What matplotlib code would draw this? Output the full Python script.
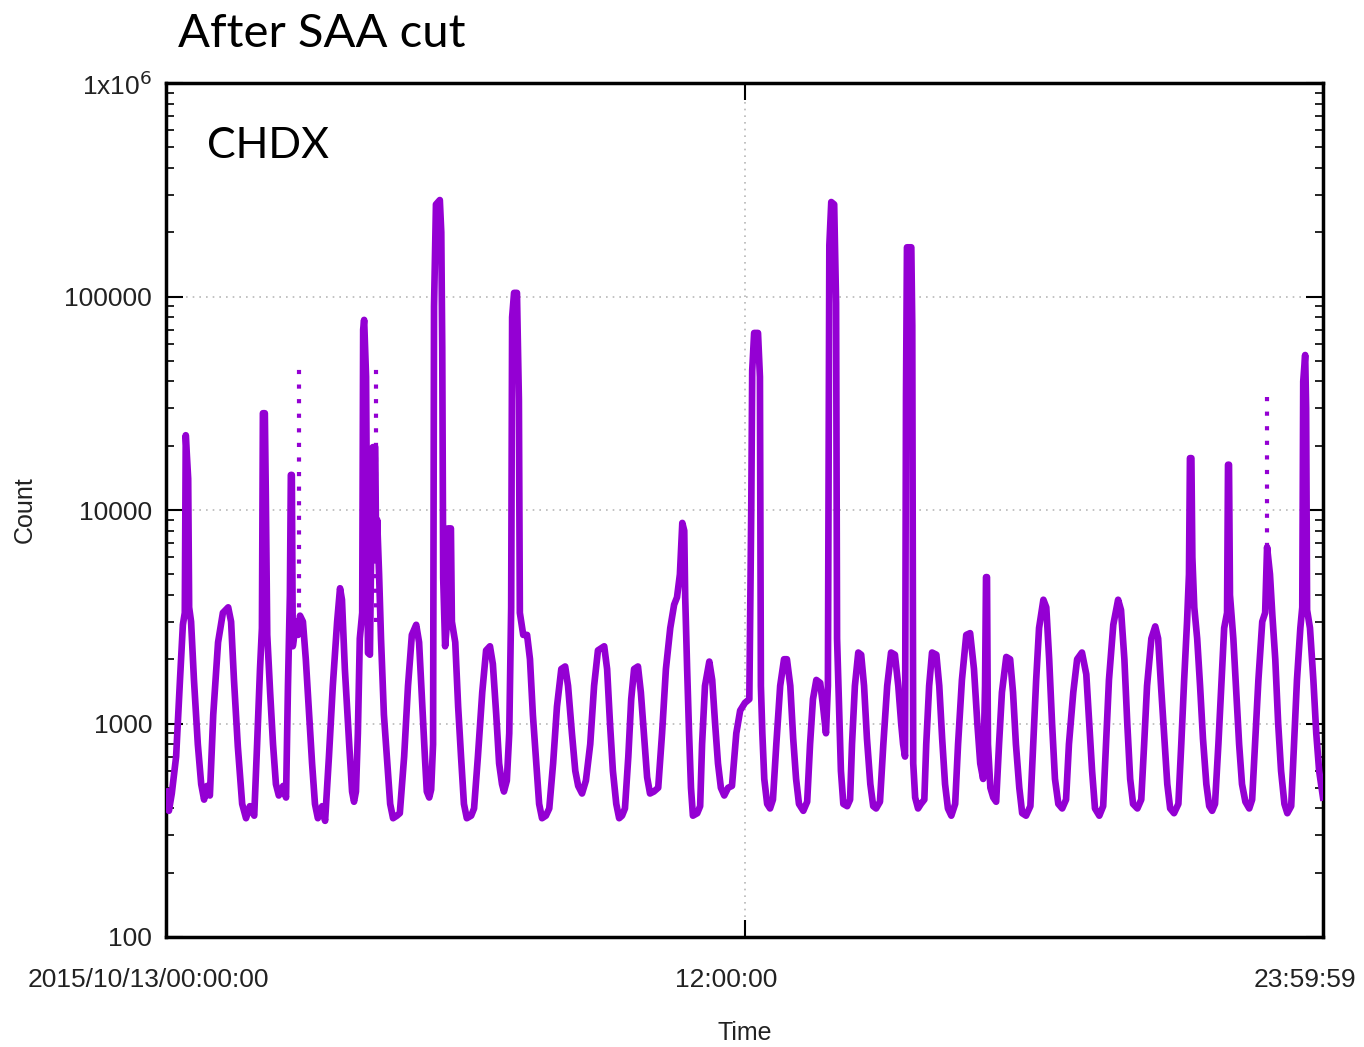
import matplotlib.pyplot as plt
import matplotlib.transforms as mtransforms

# time of day (hours) and counts along the CHDX trace
t_hours = [
    0.00, 0.06, 0.12,
    0.21, 0.29, 0.35, 0.39, 0.41, 0.46, 0.48, 0.52, 0.58, 0.66, 0.73, 0.79, 0.85, 0.91,
    0.98, 1.08, 1.18, 1.29, 1.35, 1.41, 1.49, 1.58, 1.66, 1.74, 1.83,
    1.89, 1.95, 1.99, 2.01, 2.05, 2.07, 2.10, 2.16, 2.22, 2.28, 2.34, 2.43, 2.49,
    2.53, 2.57, 2.59, 2.61, 2.63, 2.70, 2.74, 2.78, 2.84, 2.90, 2.97, 3.03, 3.09, 3.15, 3.24, 3.30,
    3.38, 3.46, 3.55, 3.61, 3.65, 3.71, 3.80, 3.86, 3.90, 3.94,
    3.98, 4.02, 4.07, 4.09, 4.11, 4.15, 4.17, 4.19, 4.23, 4.27, 4.29, 4.34, 4.36, 4.38, 4.42, 4.46,
    4.52, 4.59, 4.65, 4.71, 4.79, 4.85,
    4.94, 5.02, 5.10, 5.19, 5.25, 5.31, 5.37, 5.41, 5.46, 5.50,
    5.54, 5.56, 5.60, 5.68, 5.71, 5.73, 5.75, 5.79, 5.83, 5.85, 5.91, 5.93, 6.00, 6.06, 6.12, 6.18,
    6.24, 6.33, 6.39,
    6.47, 6.56, 6.64, 6.72, 6.78, 6.85, 6.91, 6.97, 7.01, 7.07,
    7.12, 7.16, 7.18, 7.22, 7.28, 7.32, 7.34, 7.41, 7.49, 7.55, 7.61, 7.68, 7.74, 7.80, 7.88, 7.95,
    8.03, 8.11, 8.20, 8.28, 8.34, 8.42, 8.49, 8.55, 8.63, 8.71,
    8.80, 8.88, 8.96, 9.09, 9.15, 9.21, 9.27, 9.34, 9.40, 9.46, 9.52,
    9.59, 9.65, 9.71, 9.79, 9.85, 9.92, 9.98, 10.04, 10.12, 10.21,
    10.29, 10.37, 10.46, 10.54, 10.60, 10.66, 10.71, 10.75, 10.77, 10.81, 10.85, 10.89, 10.93, 11.02, 11.08,
    11.12, 11.18, 11.27, 11.33, 11.39, 11.45, 11.51, 11.58, 11.66, 11.74,
    11.83, 11.91, 12.01, 12.10, 12.14, 12.16, 12.20, 12.28, 12.32, 12.34, 12.37, 12.41, 12.47, 12.53, 12.59,
    12.66, 12.74, 12.82, 12.88, 12.95, 13.01, 13.07, 13.13, 13.22, 13.30,
    13.36, 13.42, 13.49, 13.57, 13.63, 13.69, 13.73, 13.76, 13.80, 13.86, 13.90, 13.92, 13.96, 14.00,
    14.05, 14.13, 14.19,
    14.23, 14.29, 14.36, 14.42, 14.48, 14.54, 14.61, 14.67, 14.73, 14.81,
    14.88, 14.96, 15.04, 15.12, 15.19, 15.25, 15.29, 15.33, 15.35, 15.37, 15.46, 15.48, 15.50, 15.54,
    15.60, 15.66, 15.73,
    15.77, 15.83, 15.89, 15.98, 16.04, 16.10, 16.16, 16.22, 16.29, 16.37,
    16.43, 16.51, 16.60, 16.68, 16.76, 16.83, 16.89, 16.95, 16.99, 17.01, 17.03, 17.05, 17.10, 17.16, 17.22,
    17.28, 17.34, 17.43, 17.51, 17.57, 17.63, 17.70, 17.76, 17.84, 17.93,
    17.99, 18.05, 18.11, 18.20, 18.26, 18.32, 18.38, 18.44, 18.51, 18.59, 18.67,
    18.73, 18.82, 18.90, 19.00, 19.09, 19.15, 19.21, 19.27, 19.36, 19.44,
    19.50, 19.56, 19.65, 19.75, 19.81, 19.88, 19.94, 20.00, 20.06, 20.15, 20.23,
    20.29, 20.35, 20.44, 20.52, 20.58, 20.64, 20.71, 20.77, 20.83, 20.91, 21.00,
    21.06, 21.12, 21.18, 21.22, 21.24, 21.27, 21.29, 21.33, 21.39, 21.45, 21.51, 21.58, 21.64, 21.70, 21.76,
    21.83, 21.89, 21.95, 22.01, 22.03, 22.05, 22.07, 22.14, 22.20, 22.26, 22.32, 22.39, 22.47, 22.53,
    22.59, 22.66, 22.74, 22.80, 22.84, 22.90, 22.95, 23.01, 23.07, 23.13, 23.20, 23.26, 23.34,
    23.40, 23.46, 23.53, 23.57, 23.59, 23.63, 23.65, 23.67, 23.73, 23.80, 23.86, 23.92, 24.00,
]
counts = [
    480, 390, 470,
    700, 1600, 2900, 3300, 22400, 14000, 3500, 3000, 1600, 800, 520, 440, 510, 460,
    1100, 2400, 3300, 3500, 3000, 1600, 780, 420, 360, 410, 370,
    800, 1800, 2800, 28400, 28400, 12000, 2600, 1400, 800, 520, 460, 510, 450,
    1500, 4000, 14600, 14600, 2300, 3000, 2600, 3200, 3000, 2000, 1100, 650, 420, 360, 410, 350,
    700, 1500, 3000, 4300, 3800, 1800, 800, 480, 430, 480,
    900, 2500, 3300, 70000, 77700, 42000, 8000, 2140, 2100, 12000, 19700, 19700, 6000, 9000, 5000, 2500,
    1100, 650, 420, 360, 370, 380,
    700, 1500, 2600, 2900, 2400, 1300, 700, 480, 450, 490,
    800, 90000, 270000, 283000, 200000, 58000, 4800, 2300, 3000, 8200, 8200, 3000, 2400, 1200, 700, 420,
    360, 370, 400,
    700, 1400, 2200, 2300, 1900, 1100, 650, 520, 480, 540,
    900, 3500, 80000, 104000, 104000, 33000, 3300, 2600, 2600, 2000, 1100, 650, 420, 360, 370, 400,
    650, 1200, 1800, 1850, 1500, 900, 600, 510, 470, 540,
    800, 1500, 2200, 2300, 1800, 1000, 600, 420, 360, 370, 400,
    700, 1300, 1800, 1850, 1400, 850, 560, 470, 480, 500,
    900, 1800, 2800, 3600, 3900, 5000, 8700, 8000, 3900, 1800, 900, 500, 370, 380, 410,
    800, 1500, 1950, 1600, 1000, 650, 500, 460, 500, 510,
    900, 1150, 1250, 1300, 10000, 45000, 67500, 67500, 42000, 1500, 900, 550, 420, 400, 440,
    800, 1500, 2000, 2000, 1500, 850, 550, 420, 390, 430,
    800, 1300, 1600, 1550, 1200, 900, 1500, 174000, 277000, 270000, 93000, 2500, 1200, 600,
    420, 410, 440,
    800, 1500, 2150, 2100, 1500, 850, 520, 410, 400, 430,
    800, 1500, 2150, 2100, 1500, 1000, 800, 700, 34000, 170000, 170000, 73000, 650, 450,
    400, 420, 440,
    800, 1500, 2150, 2100, 1500, 850, 520, 400, 370, 420,
    800, 1600, 2600, 2650, 1800, 1000, 650, 550, 1500, 4850, 4850, 800, 500, 450, 430,
    800, 1400, 2050, 2000, 1400, 800, 500, 380, 370, 410,
    800, 1600, 2800, 3800, 3500, 2000, 1000, 550, 420, 400, 440,
    800, 1400, 2000, 2150, 1700, 1000, 600, 400, 370, 410,
    800, 1600, 2900, 3800, 3400, 2000, 1000, 550, 420, 400, 440,
    800, 1500, 2500, 2850, 2500, 1500, 850, 520, 400, 380, 420,
    800, 1600, 3000, 5000, 17500, 17500, 6000, 3500, 2500, 1500, 850, 520, 410, 390, 420,
    800, 1500, 2800, 3300, 16300, 16300, 4000, 2500, 1400, 800, 520, 430, 400, 440,
    800, 1600, 3000, 3300, 6700, 5000, 3200, 2000, 1000, 600, 420, 380, 410,
    800, 1600, 2800, 3500, 40000, 53200, 30000, 3400, 2800, 1600, 900, 600, 450,
]

# sparse (dotted) columns of points
dot_t = [2.76, 4.36, 22.84]
dot_lo = [3000, 3000, 6700]
dot_hi = [47800, 47800, 33800]

y_ticks = [100, 1000, 10000, 100000, 1000000]
y_labels = ['100', '1000', '10000', '100000', r'1x10$^{6}$']
x_ticks = [0, 12, 24]
x_labels = ['2015/10/13/00:00:00', '12:00:00', '23:59:59']

purple = '#9400D3'
tick_font = 'Liberation Sans'

fig = plt.figure(figsize=(13.64, 10.47), dpi=100)
ax = fig.add_axes([166 / 1364, 1 - 937 / 1047, 1157 / 1364, 854 / 1047])

ax.plot(t_hours, counts, color=purple, lw=4.8, zorder=3)
ax.vlines(dot_t, dot_lo, dot_hi, colors=purple, linestyles=(0, (1, 2.5)), lw=3, zorder=3)

ax.set_yscale('log')
ax.set_ylim(100, 1e6)
ax.set_xlim(0, 24)

ax.set_yticks(y_ticks)
ax.set_yticklabels(y_labels)
ax.set_yticks([m * 10 ** e for e in range(2, 6) for m in range(2, 10)], minor=True)
ax.set_yticklabels([], minor=True)
ax.set_xticks(x_ticks)
ax.set_xticklabels(x_labels)

ax.tick_params(which='major', direction='in', length=12, width=1.5, top=True, right=True,
               labelsize=19, labelcolor='#222222', pad=10)
ax.tick_params(which='minor', direction='in', length=6, width=1.2, right=True)
ax.tick_params(axis='x', pad=22)
for lab in ax.get_xticklabels() + ax.get_yticklabels():
    lab.set_family(tick_font)

# gnuplot puts the time labels a little left of their ticks
shift = mtransforms.ScaledTranslation(-18 / 100, 0, fig.dpi_scale_trans)
for lab in ax.get_xticklabels():
    lab.set_transform(lab.get_transform() + shift)

ax.grid(True, which='major', linestyle=(0, (1, 3)), color='#b8b8b8', lw=1.2)
for s in ax.spines.values():
    s.set_linewidth(2.5)

fig.text(25 / 1364, 1 - 510 / 1047, 'Count', rotation=90, ha='center', va='center',
         fontsize=18, color='#222222', family=tick_font)
fig.text(745 / 1364, 1 - 1033 / 1047, 'Time', ha='center', va='center',
         fontsize=18, color='#222222', family=tick_font)

fig.text(178 / 1364, 1 - 47 / 1047, 'After SAA cut', ha='left', va='baseline',
         fontsize=34, family='Lato')
fig.text(207 / 1364, 1 - 158 / 1047, 'CHDX', ha='left', va='baseline',
         fontsize=31, family='Lato')

fig.savefig('out.png', dpi=100)
